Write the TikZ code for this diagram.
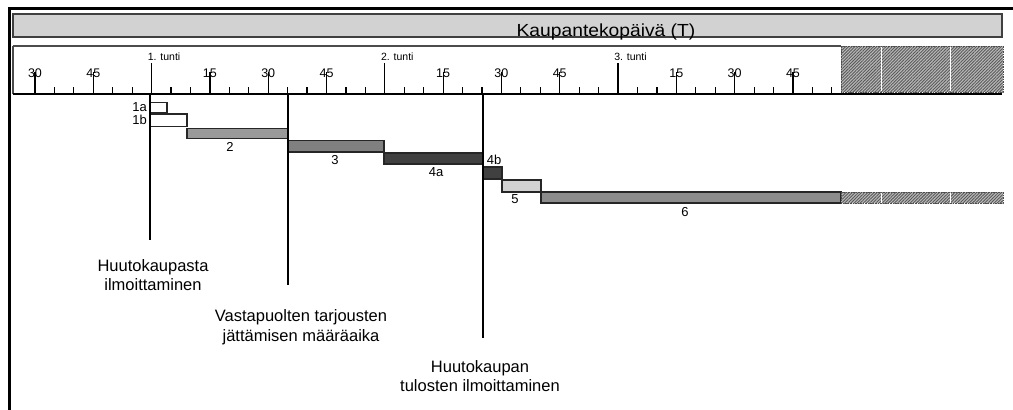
\documentclass[tikz,border=0pt]{standalone}
\usepackage{fontspec}
\setmainfont{Liberation Sans}
\usetikzlibrary{patterns.meta}

\tikzset{
  bar/.style={draw=black!85, line width=1.1pt},
  barlabel/.style={font=\fontsize{13}{13}\selectfont, inner sep=0pt},
  ticklabel/.style={font=\fontsize{12.5}{12.5}\selectfont, inner sep=0pt},
  tick/.style={line width=1.2pt},
  milestone/.style={line width=1.4pt},
  hatched/.style={pattern={Lines[angle=45,distance=2.2pt,line width=0.9pt]}, pattern color=black!65},
  hatchedge/.style={black!70, line width=1pt, dash pattern=on 1.5pt off 1pt},
  caption/.style={align=center, font=\fontsize{16.5}{19.5}\selectfont}
}

\begin{document}
\begin{tikzpicture}[x=1pt,y=-1pt]
\useasboundingbox (0,0) rectangle (1013,410);

% frame
\draw[line width=3pt] (8,8) -- (1013,8);
\draw[line width=3pt] (9.5,8) -- (9.5,410);

% title bar
\draw[fill=gray!35, draw=black!75, line width=1.2pt] (13,14) rectangle (1002,37);
\node[font=\fontsize{17.5}{20}\selectfont, anchor=base, inner sep=0pt] (title) at (606,36) {\scalebox{1.1}[1]{Kaupantekopäivä (T)}};

% ruler
\draw[black!70, line width=2pt] (13,46) -- (841,46);
\draw[black!70, line width=1.2pt] (13,46) -- (13,94);
\fill[gray!55] (841,46) rectangle (1003,92);
\fill[hatched] (841,46) rectangle (1003,92);
\draw[hatchedge] (841,46) rectangle (1003,92);
\draw[white, line width=1pt] (881,47) -- (881,91) (950,47) -- (950,91);
\draw[line width=1.5pt] (13,94) -- (1002,94);

\foreach \m in {30,35,...,235}{
  \pgfmathsetmacro\tx{35+(\m-30)*3.887}
  \pgfmathtruncatemacro\mn{mod(\m,60)}
  \pgfmathtruncatemacro\rem{mod(\m,15)}
  \ifnum\mn=0
    \pgfmathtruncatemacro\hr{\m/60}
    \draw[tick] (\tx,63) -- (\tx,94);
    \node[ticklabel, anchor=south west, font=\fontsize{10.5}{10.5}\selectfont] (t\m) at (\tx-4,61) {\hr. tunti};
  \else\ifnum\rem=0
    \node[ticklabel] (t\m) at (\tx,73) {\mn};
    \draw[tick] (\tx,72) -- (\tx,94);
  \else
    \draw[tick] (\tx,87) -- (\tx,94);
  \fi\fi
}

% bars
\draw[bar, fill=white] (150,102.5) rectangle (167,113);
\draw[bar, fill=white] (150,114) rectangle (187,126.5);
\draw[bar, fill=gray!80] (187,128.5) rectangle (288,138.5);
\draw[bar, fill=gray] (288,140.5) rectangle (384,152);
\draw[bar, fill=black!75] (384,153) rectangle (483,164);
\draw[bar, fill=black!75] (483,167) rectangle (502,179);
\draw[bar, fill=gray!35] (502,180) rectangle (541,192);
\draw[bar, fill=gray!90] (541,192) rectangle (841,203);
\fill[gray!55] (841,192) rectangle (1003,203);
\fill[hatched] (841,192) rectangle (1003,203);
\draw[hatchedge] (841,192) rectangle (1003,203);
\draw[white, line width=1pt] (881,192.5) -- (881,202.5) (950,192.5) -- (950,202.5);

\node[barlabel, anchor=east] (l1a) at (147,107) {1a};
\node[barlabel, anchor=east] (l1b) at (147,120) {1b};
\node[barlabel] (l2) at (230,147) {2};
\node[barlabel] (l3) at (335,160) {3};
\node[barlabel] (l4a) at (436,172) {4a};
\node[barlabel] (l4b) at (494,160) {4b};
\node[barlabel] (l5) at (515,199) {5};
\node[barlabel] (l6) at (685,212) {6};

% milestones
\coordinate (m1) at (150,94);
\coordinate (m2) at (288,94);
\coordinate (m3) at (483,94);
\coordinate (e1) at (150,240);
\coordinate (e2) at (288,285);
\coordinate (e3) at (483,338);
\draw[milestone] (m1) -- (e1);
\draw[milestone] (m2) -- (e2);
\draw[milestone] (m3) -- (e3);

\node[caption] (c1) at (153,275) {Huutokaupasta\\ilmoittaminen};
\node[caption] (c2) at (301,327) {Vastapuolten tarjousten\\jättämisen määräaika};
\node[caption] (c3) at (480,376) {Huutokaupan\\tulosten ilmoittaminen};
\end{tikzpicture}
\end{document}
